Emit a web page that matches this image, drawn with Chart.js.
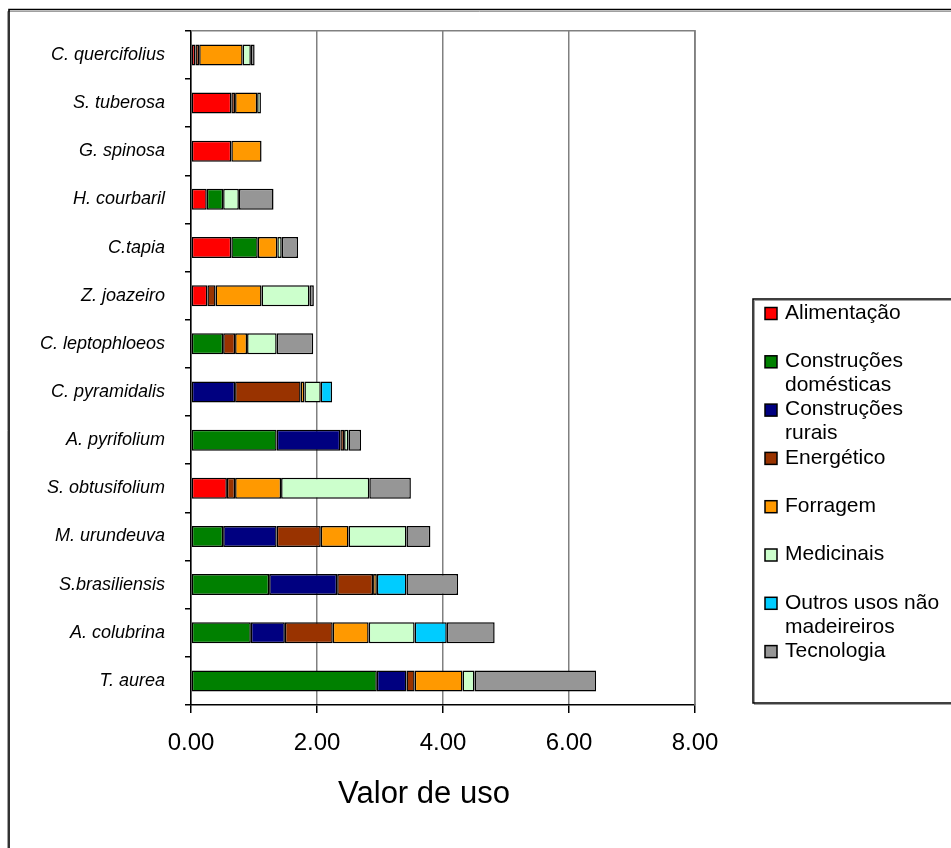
<!DOCTYPE html>
<html>
<head>
<meta charset="utf-8">
<script src="https://cdn.jsdelivr.net/npm/chart.js@4.4.1/dist/chart.umd.min.js"></script>
<style>
  html, body { margin: 0; padding: 0; background: #ffffff; }
  canvas { display: block; }
</style>
</head>
<body>
<canvas id="chart" width="951" height="848"></canvas>
<script>
// Species, listed top to bottom
const species = [
  "C. quercifolius", "S. tuberosa", "G. spinosa", "H. courbaril", "C.tapia",
  "Z. joazeiro", "C. leptophloeos", "C. pyramidalis", "A. pyrifolium",
  "S. obtusifolium", "M. urundeuva", "S.brasiliensis", "A. colubrina", "T. aurea"
];

// Use value per category of use
const alimentacao   = [0.07, 0.64, 0.64, 0.25, 0.64, 0.26, 0,    0,    0,    0.57, 0,    0,    0,    0   ];
const construcDom   = [0,    0,    0,    0.26, 0.42, 0,    0.51, 0,    1.36, 0,    0.51, 1.24, 0.95, 2.95];
const construcRur   = [0,    0,    0,    0,    0,    0,    0,    0.70, 1.01, 0,    0.85, 1.08, 0.54, 0.47];
const energetico    = [0.06, 0.06, 0,    0,    0,    0.13, 0.19, 1.04, 0.06, 0.13, 0.70, 0.57, 0.76, 0.13];
const forragem      = [0.69, 0.35, 0.48, 0,    0.31, 0.73, 0.19, 0.06, 0,    0.73, 0.44, 0.06, 0.57, 0.76];
const medicinais    = [0.13, 0.06, 0,    0.25, 0.07, 0.76, 0.47, 0.26, 0.07, 1.40, 0.92, 0,    0.73, 0.19];
const outrosUsos    = [0,    0,    0,    0,    0,    0,    0,    0.18, 0,    0,    0,    0.47, 0.51, 0   ];
const tecnologia    = [0.06, 0,    0,    0.55, 0.26, 0.07, 0.58, 0,    0.20, 0.66, 0.38, 0.82, 0.76, 1.93];

const useLabels = [
  "Alimentação", "Construções domésticas", "Construções rurais", "Energético",
  "Forragem", "Medicinais", "Outros usos não madeireiros", "Tecnologia"
];
const useColors = ["#FF0000", "#008000", "#000080", "#993300", "#FF9900", "#CCFFCC", "#00CCFF", "#969696"];
const useSeries = [alimentacao, construcDom, construcRur, energetico, forragem, medicinais, outrosUsos, tecnologia];

const xMin = 0, xMax = 8, xStep = 2;
const axisTitle = "Valor de uso";

const FONT = '"Liberation Sans", Arial, Helvetica, sans-serif';
Chart.defaults.font.family = FONT;
Chart.defaults.color = "#000000";

// Outer frame and plot-area top/right edges
const framePlugin = {
  id: "frame",
  beforeDraw(chart) {
    const ctx = chart.ctx;
    ctx.save();
    ctx.fillStyle = "#ffffff";
    ctx.fillRect(0, 0, chart.width, chart.height);
    // outer frame (runs past the right and bottom edges)
    ctx.strokeStyle = "#a0a0a0";
    ctx.lineWidth = 1;
    ctx.beginPath();
    ctx.moveTo(7.5, chart.height + 5); ctx.lineTo(7.5, 11.5); ctx.lineTo(chart.width + 5, 11.5);
    ctx.stroke();
    ctx.strokeStyle = "#000000";
    ctx.lineWidth = 1.6;
    ctx.beginPath();
    ctx.moveTo(9, chart.height + 5); ctx.lineTo(9, 9.5); ctx.lineTo(chart.width + 5, 9.5);
    ctx.stroke();
    ctx.restore();
  },
  beforeDatasetsDraw(chart) {
    const { ctx, chartArea } = chart;
    ctx.save();
    ctx.strokeStyle = "#808080";
    ctx.lineWidth = 1.6;
    ctx.beginPath();
    ctx.moveTo(chartArea.left, chartArea.top);
    ctx.lineTo(chartArea.right, chartArea.top);
    ctx.lineTo(chartArea.right, chartArea.bottom);
    ctx.stroke();
    ctx.restore();
  }
};

// Value-axis title, sitting below the tick labels
const axisTitlePlugin = {
  id: "axisTitle",
  afterDraw(chart) {
    const ctx = chart.ctx;
    ctx.save();
    ctx.font = "31px " + FONT;
    ctx.fillStyle = "#000000";
    ctx.textAlign = "center";
    ctx.textBaseline = "middle";
    ctx.fillText(axisTitle, 424, 794);
    ctx.restore();
  }
};

function wrapText(ctx, text, maxWidth) {
  const words = text.split(" ");
  const lines = [];
  let line = "";
  words.forEach(w => {
    const test = line ? line + " " + w : w;
    if (line && ctx.measureText(test).width > maxWidth) {
      lines.push(line);
      line = w;
    } else {
      line = test;
    }
  });
  if (line) lines.push(line);
  return lines;
}

// Boxed legend on the right; long names wrap onto a second line
const boxLegend = {
  id: "boxLegend",
  afterDraw(chart) {
    const ctx = chart.ctx;
    const L = 753, T = 299, B = 703, R = chart.width + 10;
    ctx.save();
    ctx.strokeStyle = "#a0a0a0";
    ctx.lineWidth = 1;
    ctx.strokeRect(L + 1.5, T + 1.5, R - L, B - T);
    ctx.strokeStyle = "#000000";
    ctx.lineWidth = 1.5;
    ctx.strokeRect(L, T, R - L, B - T);

    ctx.font = "21px " + FONT;
    ctx.textBaseline = "middle";
    ctx.textAlign = "left";
    const firstY = 313, step = 48.3, lineH = 24;
    chart.data.datasets.forEach((ds, i) => {
      const y = firstY + i * step;
      ctx.fillStyle = ds.backgroundColor;
      ctx.fillRect(765, y - 5.5, 12, 12);
      ctx.strokeStyle = "#000000";
      ctx.lineWidth = 1.5;
      ctx.strokeRect(765, y - 5.5, 12, 12);
      ctx.fillStyle = "#000000";
      wrapText(ctx, ds.label, 166).forEach((ln, k) => {
        ctx.fillText(ln, 785, y + k * lineH);
      });
    });
    ctx.restore();
  }
};

const datasets = useLabels.map((label, i) => ({
  label: label,
  data: useSeries[i],
  backgroundColor: useColors[i],
  borderColor: "#000000",
  borderWidth: 1.5,
  borderSkipped: false,
  inflateAmount: 0,
  barThickness: 21,
  stack: "uso"
}));

new Chart(document.getElementById("chart"), {
  type: "bar",
  data: { labels: species, datasets: datasets },
  plugins: [framePlugin, axisTitlePlugin, boxLegend],
  options: {
    indexAxis: "y",
    responsive: false,
    animation: false,
    devicePixelRatio: 1,
    layout: { padding: { top: 29, right: 256, bottom: 0, left: 0 } },
    plugins: {
      legend: { display: false },
      tooltip: { enabled: false }
    },
    scales: {
      x: {
        stacked: true,
        min: xMin,
        max: xMax,
        afterFit(scale) { scale.height = 143; },
        ticks: {
          stepSize: xStep,
          padding: 16,
          font: { size: 24 },
          color: "#000000",
          callback: v => Number(v).toFixed(2)
        },
        grid: {
          color: "#808080",
          lineWidth: 1.5,
          tickColor: "#000000",
          tickLength: 8,
          drawTicks: true
        },
        border: { display: true, color: "#000000", width: 1.5 },
        title: { display: false }
      },
      y: {
        stacked: true,
        afterFit(scale) { scale.width = 191; },
        ticks: {
          padding: 20,
          font: { size: 18, style: "italic" },
          color: "#000000"
        },
        grid: {
          offset: true,
          drawOnChartArea: false,
          drawTicks: true,
          tickLength: 6,
          tickColor: "#000000",
          color: "#000000",
          lineWidth: 1.5
        },
        border: { display: true, color: "#000000", width: 1.5 }
      }
    }
  }
});
</script>
</body>
</html>
